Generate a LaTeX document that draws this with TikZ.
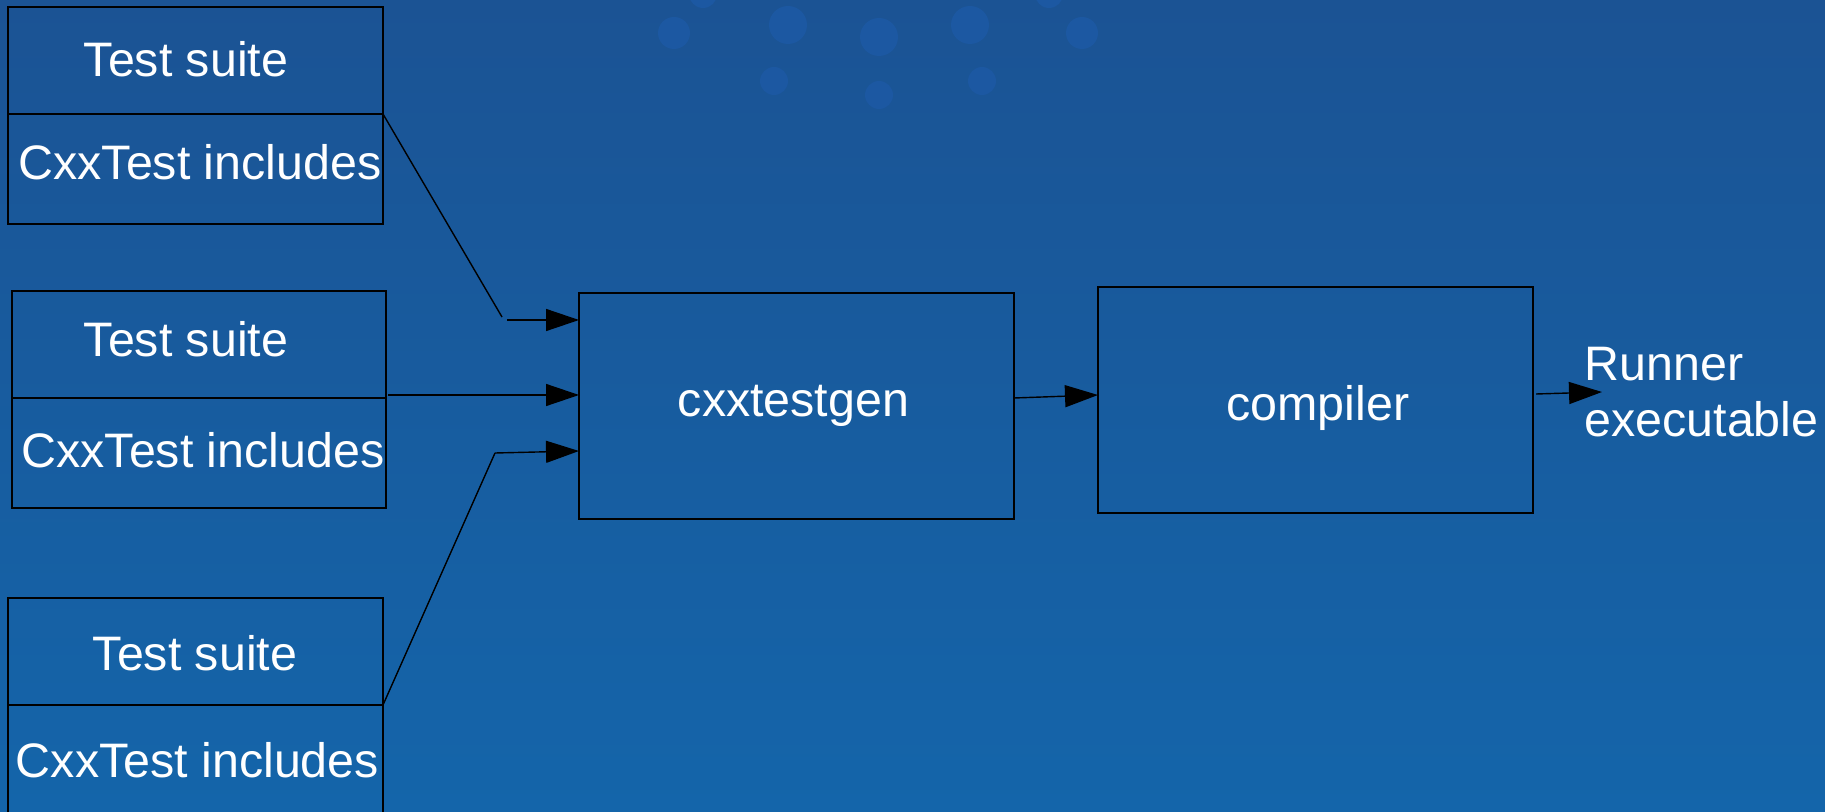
\documentclass[tikz,border=0pt]{standalone}
\usepackage{fontspec}
\setmainfont{Liberation Sans}
\usetikzlibrary{arrows.meta}
\definecolor{bgtop}{HTML}{1B5394}
\definecolor{bgbot}{HTML}{1465AA}
\definecolor{dotc}{HTML}{1C58A2}
\begin{document}
\begin{tikzpicture}[x=0.5pt,y=-0.5pt,
  box/.style={draw=black, line width=0.7pt, inner sep=0pt, outer sep=0pt, anchor=north west},
  lbl/.style={text=white, font=\fontsize{24.2pt}{27pt}\selectfont, inner sep=0pt, anchor=base},
  conn/.style={draw=black, line width=0.7pt},
  arr/.style={conn, -{Triangle[length=16.5pt,width=11pt]}}]
\clip (0,0) rectangle (1825,812);
\shade[top color=bgtop, bottom color=bgbot] (0,0) rectangle (1825,812);
% decorative dots
\foreach \x/\y/\r in {674/33/8, 788/25/9.5, 774/81/7, 879/37/9.5, 879/95/7, 970/25/9.5, 982/81/7, 1082/33/8, 703/-6/7, 1049/-6/7}
  \fill[dotc] (\x,\y) circle[radius=\r pt];
% test suite boxes
\node[box, minimum width=187.5pt, minimum height=53.5pt] (b1t) at (8,7) {};
\node[box, minimum width=187.5pt, minimum height=55pt] (b1b) at (8,114) {};
\node[box, minimum width=187pt, minimum height=53.5pt] (b2t) at (12,291) {};
\node[box, minimum width=187pt, minimum height=55pt] (b2b) at (12,398) {};
\node[box, minimum width=187.5pt, minimum height=53.5pt] (b3t) at (8,598) {};
\node[box, minimum width=187.5pt, minimum height=65pt] (b3b) at (8,705) {};
\node[lbl] (t1a) at (186,77) {Test suite};
\node[lbl] (t1b) at (200,180) {CxxTest includes};
\node[lbl] (t2a) at (186,357) {Test suite};
\node[lbl] (t2b) at (203,467) {CxxTest includes};
\node[lbl] (t3a) at (195,670) {Test suite};
\node[lbl] (t3b) at (197.5,777) {CxxTest includes};
% processing boxes
\node[box, minimum width=217.5pt, minimum height=113pt] (gen) at (579,293) {};
\node[box, minimum width=217.5pt, minimum height=113pt] (comp) at (1098,287) {};
\node[lbl] (genl) at (793.5,416) {cxxtestgen};
\node[lbl] (compl) at (1318,421) {compiler};
\node[lbl, anchor=base west] (run) at (1584,381) {Runner};
\node[lbl, anchor=base west] (exe) at (1584,437) {executable};
% connectors
\coordinate (k1) at (502,317);
\coordinate (s1) at (507,320);
\coordinate (s2) at (388,395);
\coordinate (k3) at (495,453);
\coordinate (e3) at (579,451);
\coordinate (o1) at (1014,398);
\coordinate (i2) at (1098,395);
\coordinate (o2) at (1536,394);
\coordinate (f2) at (1602,392);
\draw[conn] (b1b.north east) -- (k1);
\draw[arr] (s1) -- (gen.west |- s1);
\draw[arr] (s2) -- (gen.west |- s2);
\draw[conn] (b3b.north east) -- (k3);
\draw[arr] (k3) -- (e3);
\draw[arr] (o1) -- (i2);
\draw[arr] (o2) -- (f2);
\end{tikzpicture}
\end{document}
